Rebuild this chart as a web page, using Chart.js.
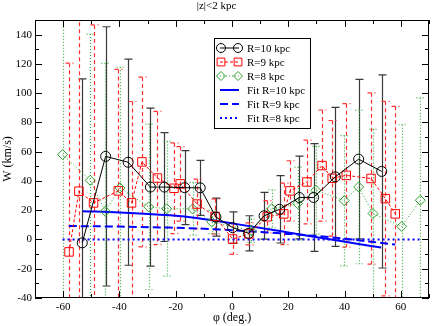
<!DOCTYPE html>
<html>
<head>
<meta charset="utf-8">
<script src="https://cdn.jsdelivr.net/npm/chart.js@4.4.1/dist/chart.umd.min.js"></script>
<style>
  html, body { margin: 0; padding: 0; background: #fff; }
</style>
</head>
<body>
<canvas id="myChart" width="436" height="326"></canvas>
<script>
// W vs phi for |z|<2 kpc, three radii with error bars, plus the fits

// R=10 kpc
var phi10 = [-53.2, -44.9, -36.9, -29, -24, -16.8, -11.3, -5.7, 0.2, 5.9, 11.4, 16.9, 23.9, 29, 36.7, 45, 53.2];
var w10   = [-2.3, 56.8, 52.8, 35.8, 35.8, 35.4, 35.3, 15.3, 8.1, 4.2, 16.2, 20.6, 28.7, 28.7, 42.8, 54.9, 46.5];
var err10 = [112, 88.6, 70.4, 54, 37.2, 25.3, 18.8, 13, 10.8, 12, 16, 23, 28.3, 36.8, 47.5, 54.5, 66];

// R=9 kpc
var phi9 = [-57.9, -54.4, -49.2, -40.4, -35.7, -32, -26.5, -20.6, -18.4, -12.4, -6, 0.2, 6, 12.5, 18.4, 20.6, 26.6, 32, 35.6, 40.6, 49.4, 54.5, 58];
var w9   = [-8.5, 33, 25, 33.2, 25, 53, 42, 35, 38, 24.2, 15.8, 0.3, 3.8, 15.5, 17.5, 33.2, 39.3, 50.5, 41.8, 43.8, 41.7, 27.9, 17.5];
var err9 = [129, 125, 121.6, 83, 69.3, 58, 45.5, 31, 25.5, 17, 12, 10.5, 7.5, 11, 21, 20.6, 28.6, 38, 39.5, 49, 58.5, 66.5, 73.5];

// R=8 kpc
var phi8 = [-60.2, -50.4, -45, -39.8, -29.6, -23.2, -14, -7.2, 6.8, 14.1, 23.3, 29.8, 39.9, 45, 50.1, 60.3, 66.9];
var w8   = [58, 40.4, 19.3, 35.2, 22.3, 21, 20.9, 12, 6, 21, 24.5, 33.6, 26.5, 35.9, 17.7, 8.9, 26.8];
var err8 = [110, 100, 101, 82.5, 56.5, 46, 18, 8, 8, 13, 25, 30, 44.5, 52.5, 57.5, 69.5, 70];

// fit curves
var fitPhi10 = [-53, -40, -22, -12, 0, 20, 37, 53];
var fitW10   = [19.3, 18.5, 16.5, 14.5, 11, 4.8, -0.6, -5.5];
var fitPhi9  = [-58, -40, -22, -12, 0, 20, 35, 58];
var fitW9    = [9.2, 8.8, 8.1, 7.5, 6.3, 3.8, 1.5, -3.5];
var fitPhi8  = [-60.2, 66.9];
var fitW8    = [0, 0];

var FONT = "'Liberation Serif', 'DejaVu Serif', serif";

function pts(xs, ys) {
  return xs.map(function (x, i) { return {x: x, y: ys[i]}; });
}

// vertical error bars with caps, drawn under the lines and markers
var errorBars = {
  id: 'errorBars',
  beforeDatasetsDraw: function (chart) {
    var ctx = chart.ctx, xs = chart.scales.x, ys = chart.scales.y, a = chart.chartArea;
    ctx.save();
    ctx.beginPath();
    ctx.rect(a.left, a.top, a.right - a.left, a.bottom - a.top);
    ctx.clip();
    chart.data.datasets.forEach(function (ds) {
      if (!ds.errors) return;
      ctx.strokeStyle = ds.errorColor;
      ctx.lineWidth = ds.errorWidth;
      ctx.setLineDash(ds.errorDash);
      ds.data.forEach(function (p, i) {
        var x = Math.round(xs.getPixelForValue(p.x)) + 0.5;
        var yt = ys.getPixelForValue(p.y + ds.errors[i]);
        var yb = ys.getPixelForValue(p.y - ds.errors[i]);
        ctx.beginPath();
        ctx.moveTo(x, yt); ctx.lineTo(x, yb);
        ctx.moveTo(x - 4, yt); ctx.lineTo(x + 4, yt);
        ctx.moveTo(x - 4, yb); ctx.lineTo(x + 4, yb);
        ctx.stroke();
      });
    });
    ctx.restore();
  }
};

// box round the plot with inward ticks on all four sides
var frameTicks = {
  id: 'frameTicks',
  afterDraw: function (chart) {
    var ctx = chart.ctx, xs = chart.scales.x, ys = chart.scales.y, a = chart.chartArea;
    ctx.save();
    ctx.strokeStyle = '#000';
    ctx.lineWidth = 1;
    ctx.setLineDash([]);
    ctx.strokeRect(a.left + 0.5, a.top + 0.5, a.right - a.left - 1, a.bottom - a.top - 1);
    ctx.beginPath();
    xs.ticks.forEach(function (t) {
      var x = Math.round(xs.getPixelForValue(t.value)) + 0.5;
      var len = t.value % 20 === 0 ? 7 : 4;
      ctx.moveTo(x, a.bottom); ctx.lineTo(x, a.bottom - len);
      ctx.moveTo(x, a.top); ctx.lineTo(x, a.top + len);
    });
    ys.ticks.forEach(function (t) {
      var y = Math.round(ys.getPixelForValue(t.value)) + 0.5;
      var len = t.value % 20 === 0 ? 7 : 4;
      ctx.moveTo(a.left, y); ctx.lineTo(a.left + len, y);
      ctx.moveTo(a.right, y); ctx.lineTo(a.right - len, y);
    });
    ctx.stroke();
    ctx.restore();
  }
};

// legend box inside the plot
var boxLegend = {
  id: 'boxLegend',
  afterDraw: function (chart) {
    var ctx = chart.ctx;
    var left = 214, top = 38, w = 96, h = 90;
    ctx.save();
    ctx.fillStyle = '#fff';
    ctx.fillRect(left, top, w, h);
    ctx.strokeStyle = '#000';
    ctx.lineWidth = 1;
    ctx.strokeRect(left + 0.5, top + 0.5, w, h);
    ctx.font = '11px ' + FONT;
    ctx.textBaseline = 'middle';
    chart.data.datasets.forEach(function (ds, i) {
      var y = 48 + i * 14;
      ctx.strokeStyle = ds.borderColor;
      ctx.lineWidth = ds.borderWidth;
      ctx.setLineDash(ds.borderDash || []);
      ctx.beginPath();
      ctx.moveTo(220, y); ctx.lineTo(239, y);
      ctx.stroke();
      ctx.setLineDash([]);
      if (ds.pointRadius > 0) {
        var o = {pointStyle: ds.pointStyle, radius: ds.pointRadius - 0.5, borderWidth: 1};
        ctx.lineWidth = 1;
        ctx.fillStyle = 'rgba(0,0,0,0)';
        Chart.helpers.drawPoint(ctx, o, 221, y);
        Chart.helpers.drawPoint(ctx, o, 238, y);
      }
      ctx.fillStyle = '#000';
      ctx.fillText(ds.label, 247, y + 1);
    });
    ctx.restore();
  }
};

new Chart("myChart", {
  type: "scatter",
  data: {
    datasets: [{
      label: "R=10 kpc",
      data: pts(phi10, w10),
      errors: err10,
      errorColor: "#3a3a3a", errorWidth: 1.2, errorDash: [],
      showLine: true,
      borderColor: "#000",
      borderWidth: 1,
      borderDash: [],
      pointStyle: "circle",
      pointRadius: 5,
      pointBorderWidth: 1,
      pointBackgroundColor: "rgba(0,0,0,0)"
    }, {
      label: "R=9 kpc",
      data: pts(phi9, w9),
      errors: err9,
      errorColor: "#ff3030", errorWidth: 1.2, errorDash: [4, 3],
      showLine: true,
      borderColor: "#ff0000",
      borderWidth: 1,
      borderDash: [3, 2],
      pointStyle: "rect",
      pointRadius: 6,
      pointBorderWidth: 1,
      pointBackgroundColor: "rgba(0,0,0,0)"
    }, {
      label: "R=8 kpc",
      data: pts(phi8, w8),
      errors: err8,
      errorColor: "#3caa3c", errorWidth: 1.2, errorDash: [1, 2],
      showLine: true,
      borderColor: "#2e9e2e",
      borderWidth: 1,
      borderDash: [1, 2],
      pointStyle: "rectRot",
      pointRadius: 5,
      pointBorderWidth: 1,
      pointBackgroundColor: "rgba(0,0,0,0)"
    }, {
      label: "Fit R=10 kpc",
      data: pts(fitPhi10, fitW10),
      showLine: true,
      borderColor: "#0000ff",
      borderWidth: 2,
      borderDash: [],
      pointRadius: 0,
      cubicInterpolationMode: "monotone"
    }, {
      label: "Fit R=9 kpc",
      data: pts(fitPhi9, fitW9),
      showLine: true,
      borderColor: "#0000ff",
      borderWidth: 2,
      borderDash: [8, 4],
      pointRadius: 0,
      cubicInterpolationMode: "monotone"
    }, {
      label: "Fit R=8 kpc",
      data: pts(fitPhi8, fitW8),
      showLine: true,
      borderColor: "#0000ff",
      borderWidth: 2,
      borderDash: [2, 3],
      pointRadius: 0
    }]
  },
  options: {
    responsive: false,
    animation: false,
    events: [],
    layout: {padding: {top: 0, right: 3, bottom: 0, left: 0}},
    plugins: {
      legend: {display: false},
      tooltip: {enabled: false},
      title: {
        display: true,
        text: "|z|<2 kpc",
        color: "#000",
        font: {family: FONT, size: 11, weight: "normal"},
        padding: {top: 0, bottom: 6.8}
      }
    },
    scales: {
      x: {
        type: "linear",
        min: -70, max: 70,
        afterFit: function (s) { s.height = 28; },
        grid: {display: false, drawTicks: false},
        border: {display: false},
        ticks: {
          stepSize: 10, autoSkip: false, maxRotation: 0, padding: 3,
          color: "#000",
          font: {family: FONT, size: 11},
          callback: function (v) { return v % 20 === 0 ? v : ""; }
        },
        title: {
          display: true, text: "\u03c6 (deg.)", color: "#000",
          font: {family: FONT, size: 12}, padding: {top: 0, bottom: 1}
        }
      },
      y: {
        type: "linear",
        min: -40, max: 150,
        afterFit: function (s) { s.width = 35; },
        grid: {display: false, drawTicks: false},
        border: {display: false},
        ticks: {
          stepSize: 10, autoSkip: false, padding: 3,
          color: "#000",
          font: {family: FONT, size: 11},
          callback: function (v) { return v % 20 === 0 ? v : ""; }
        },
        title: {
          display: true, text: "W (km/s)", color: "#000",
          font: {family: FONT, size: 12}, padding: {top: 1, bottom: 0}
        }
      }
    }
  },
  plugins: [errorBars, frameTicks, boxLegend]
});
</script>
</body>
</html>
